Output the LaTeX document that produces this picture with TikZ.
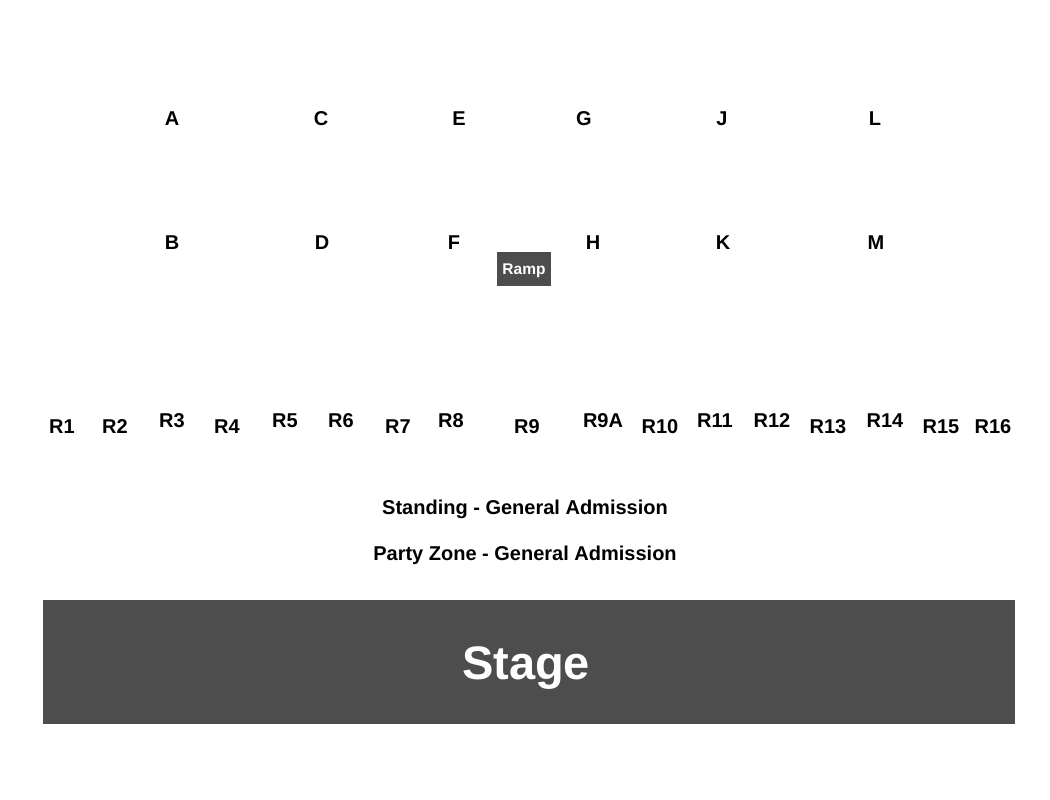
\documentclass[tikz,border=0pt]{standalone}
\usepackage{fontspec}
\setmainfont{Liberation Sans}
\definecolor{stagegray}{HTML}{4D4D4D}
\begin{document}
\begin{tikzpicture}[x=1pt,y=-1pt,
  seclabel/.style={inner sep=0pt,font=\bfseries\fontsize{20}{24}\selectfont,text=black},
  galabel/.style={inner sep=0pt,anchor=base,font=\bfseries\fontsize{20}{24}\selectfont,text=black},
  darkbox/.style={fill=stagegray,draw=none,inner sep=0pt}]
\useasboundingbox (0,0) rectangle (1050,800);
\fill[white] (0,0) rectangle (1050,800);
% upper sections
\node[seclabel] (A) at (172,119) {A};
\node[seclabel] (C) at (321,119) {C};
\node[seclabel] (E) at (459,119) {E};
\node[seclabel] (G) at (584,119) {G};
\node[seclabel] (J) at (722,119) {J};
\node[seclabel] (L) at (875,119) {L};
\node[seclabel] (B) at (172,243) {B};
\node[seclabel] (D) at (322,243) {D};
\node[seclabel] (F) at (454,243) {F};
\node[seclabel] (H) at (593,243) {H};
\node[seclabel] (K) at (723,243) {K};
\node[seclabel] (M) at (876,243) {M};
% ramp
\node[darkbox,minimum width=54pt,minimum height=34pt] (ramp) at (524,269) {};
\node[inner sep=0pt,anchor=base,text=white,font=\bfseries\fontsize{15.5}{18}\selectfont] (ramptext) at (524,274) {Ramp};
% R row
\node[seclabel] (R1) at (62,427) {R1};
\node[seclabel] (R2) at (115,427) {R2};
\node[seclabel] (R3) at (172,421) {R3};
\node[seclabel] (R4) at (227,427) {R4};
\node[seclabel] (R5) at (285,421) {R5};
\node[seclabel] (R6) at (341,421) {R6};
\node[seclabel] (R7) at (398,427) {R7};
\node[seclabel] (R8) at (451,421) {R8};
\node[seclabel] (R9) at (527,427) {R9};
\node[seclabel] (R9A) at (603,421) {R9A};
\node[seclabel] (R10) at (660,427) {R10};
\node[seclabel] (R11) at (715,421) {R11};
\node[seclabel] (R12) at (772,421) {R12};
\node[seclabel] (R13) at (828,427) {R13};
\node[seclabel] (R14) at (885,421) {R14};
\node[seclabel] (R15) at (941,427) {R15};
\node[seclabel] (R16) at (993,427) {R16};
% general admission
\node[galabel] (standing) at (525,514) {Standing - General Admission};
\node[galabel] (party) at (525,560) {Party Zone - General Admission};
% stage
\node[darkbox,minimum width=972pt,minimum height=124pt] (stage) at (529,662) {};
\node[inner sep=0pt,anchor=base,text=white,font=\bfseries\fontsize{47}{52}\selectfont] (stagetext) at (526,679) {Stage};
\end{tikzpicture}
\end{document}
